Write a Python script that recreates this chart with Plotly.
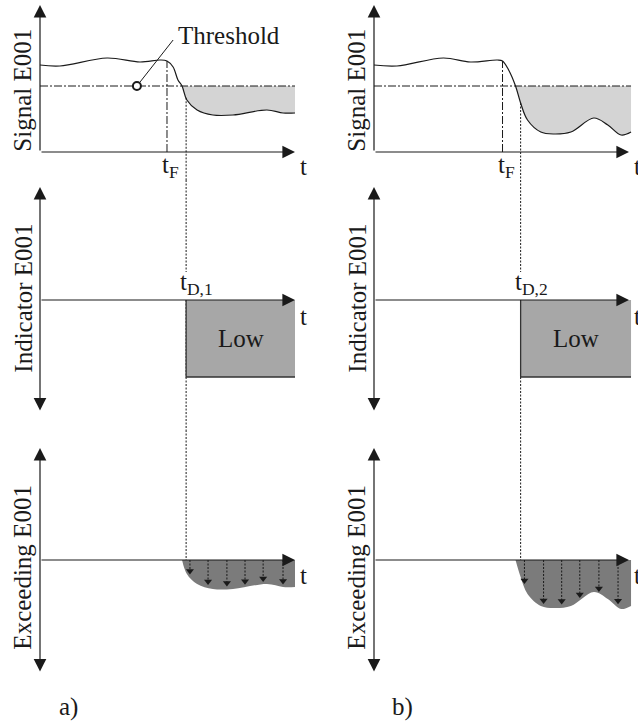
import numpy as np
import plotly.graph_objects as go

# ---------------- data ----------------
threshold = 6.6
t_end = 10.0
indicator_low = -1.0

signal_a_t = [0, 0.78, 2.63, 3.92, 4.71, 4.98, 5.22, 5.41, 5.57, 5.76, 6.16, 6.78, 7.57, 8.9, 9.53, 10.0]
signal_a_v = [8.7, 8.6, 9.4, 9.0, 9.2, 9.1, 8.5, 7.2, 6.6, 5.2, 4.2, 3.7, 3.7, 4.2, 3.9, 3.9]
signal_b_t = [0, 0.9, 2.72, 3.78, 4.84, 5.04, 5.28, 5.55, 5.75, 6.02, 6.54, 7.05, 7.72, 8.62, 9.17, 9.69, 10.08]
signal_b_v = [8.7, 8.6, 9.4, 9.0, 9.2, 9.1, 8.2, 6.6, 4.9, 3.2, 2.0, 1.8, 2.0, 3.4, 2.7, 1.7, 2.0]

t_fault = {"a": 4.98, "b": 5.04}
t_detect = {"a": 5.73, "b": 5.75}
detect_labels = {"a": "t<sub>D,1</sub>", "b": "t<sub>D,2</sub>"}
arrow_times = {"a": [5.88, 6.59, 7.33, 8.04, 8.75, 9.53],
               "b": [5.9, 6.65, 7.36, 8.07, 8.82, 9.57]}
threshold_marker_t = 3.8
panel_labels = {"a": "a)", "b": "b)"}
ylabels = ["Signal E001", "Indicator E001", "Exceeding E001"]

signals = {"a": (signal_a_t, signal_a_v), "b": (signal_b_t, signal_b_v)}

# ---------------- layout geometry ----------------
W, H = 638, 723
FONT = "Liberation Serif"
FS = 25
INK = "#1a1a1a"
PX_PER_T = 25.5
cols = {"a": dict(x0=0, x1=319, origin=40), "b": dict(x0=320, x1=638, origin=374)}
rows = [dict(y0=0, y1=180, origin=152, scale=10.0),   # signal
        dict(y0=180, y1=430, origin=300, scale=77.0),  # indicator
        dict(y0=430, y1=723, origin=560, scale=10.0)]  # exceeding

fig = go.Figure()
layout = dict(width=W, height=H, margin=dict(l=0, r=0, t=0, b=0),
              paper_bgcolor="white", plot_bgcolor="rgba(0,0,0,0)",
              showlegend=False, font=dict(family=FONT, color=INK, size=FS))
annotations = []

axis_ids = {}
k = 0
for c in ["a", "b"]:
    for r in range(3):
        k += 1
        suf = "" if k == 1 else str(k)
        axis_ids[(c, r)] = ("x" + suf, "y" + suf)
        cg, rg = cols[c], rows[r]
        xr = [(cg["x0"] - cg["origin"]) / PX_PER_T, (cg["x1"] - cg["origin"]) / PX_PER_T]
        yr = [(rg["origin"] - rg["y1"]) / rg["scale"], (rg["origin"] - rg["y0"]) / rg["scale"]]
        layout["xaxis" + suf] = dict(domain=[cg["x0"] / W, cg["x1"] / W], range=xr, visible=False,
                                     anchor="y" + suf, fixedrange=True)
        layout["yaxis" + suf] = dict(domain=[1 - rg["y1"] / H, 1 - rg["y0"] / H], range=yr,
                                     visible=False, anchor="x" + suf, fixedrange=True)


def px_to_val(r, py):
    return (rows[r]["origin"] - py) / rows[r]["scale"]


def axis_arrow(xa, ya, x, y, ax, ay, both=False):
    annotations.append(dict(x=x, y=y, ax=ax, ay=ay, xref=xa, yref=ya, axref=xa, ayref=ya,
                            text="", showarrow=True, arrowhead=2, arrowsize=2.1, arrowwidth=1.2,
                            arrowcolor=INK, arrowside="end+start" if both else "end",
                            startarrowhead=2, startarrowsize=2.1))


def text(xa, ya, x, y, s, **kw):
    d = dict(x=x, y=y, xref=xa, yref=ya, text=s, showarrow=False,
             font=dict(family=FONT, size=kw.pop("size", FS), color=INK))
    d.update(kw)
    annotations.append(d)


for c in ["a", "b"]:
    ts, vs = signals[c]
    ts = np.array(ts, float)
    vs = np.array(vs, float)
    after = ts >= ts[np.argmax(vs <= threshold)]
    tD, tF = t_detect[c], t_fault[c]
    v_at_tD = float(np.interp(tD, ts, vs))
    v_at_tF = float(np.interp(tF, ts, vs))

    # ---------- signal panel ----------
    xa, ya = axis_ids[(c, 0)]
    fig.add_trace(go.Scatter(x=ts[after], y=np.full(after.sum(), threshold), xaxis=xa, yaxis=ya,
                             mode="lines", line=dict(width=0), hoverinfo="skip"))
    fig.add_trace(go.Scatter(x=ts[after], y=vs[after], xaxis=xa, yaxis=ya, mode="lines",
                             line=dict(width=0, shape="spline"), fill="tonexty",
                             fillcolor="#d4d4d4", hoverinfo="skip"))
    fig.add_trace(go.Scatter(x=[0, ts[-1]], y=[threshold, threshold], xaxis=xa, yaxis=ya,
                             mode="lines", line=dict(color=INK, width=1, dash="8px,2px,2px,2px")))
    fig.add_trace(go.Scatter(x=[tF, tF], y=[0, v_at_tF], xaxis=xa, yaxis=ya, mode="lines",
                             line=dict(color=INK, width=1, dash="8px,2px,2px,2px")))
    fig.add_trace(go.Scatter(x=[tD, tD], y=[v_at_tD, layout["yaxis" + ya[1:]]["range"][0]],
                             xaxis=xa, yaxis=ya, mode="lines",
                             line=dict(color=INK, width=1, dash="2px,1.5px")))
    fig.add_trace(go.Scatter(x=ts, y=vs, xaxis=xa, yaxis=ya, mode="lines",
                             line=dict(color=INK, width=1.2, shape="spline")))
    axis_arrow(xa, ya, 0, px_to_val(0, 5), 0, 0)
    axis_arrow(xa, ya, t_end, 0, 0, 0)
    text(xa, ya, 10.35, px_to_val(0, 166), "t")
    text(xa, ya, tF, px_to_val(0, 166), "t<sub>F</sub>", xshift=4)
    text(xa, ya, -0.72, px_to_val(0, 90), ylabels[0], textangle=-90)
    if c == "a":
        fig.add_trace(go.Scatter(x=[threshold_marker_t, 5.22], y=[threshold, 11.2], xaxis=xa, yaxis=ya,
                                 mode="lines", line=dict(color=INK, width=1)))
        fig.add_trace(go.Scatter(x=[threshold_marker_t], y=[threshold], xaxis=xa, yaxis=ya,
                                 mode="markers", marker=dict(symbol="circle", size=8, color="white",
                                                             line=dict(color=INK, width=2))))
        text(xa, ya, 5.35, 11.7, "Threshold", xanchor="left")

    # ---------- indicator panel ----------
    xa, ya = axis_ids[(c, 1)]
    yr = layout["yaxis" + ya[1:]]["range"]
    fig.add_trace(go.Scatter(x=[tD, tD, None, tD, tD], y=[yr[1], px_to_val(1, 272), None, 0, yr[0]],
                             xaxis=xa, yaxis=ya, mode="lines",
                             line=dict(color=INK, width=1, dash="2px,1.5px")))
    t_rect_end = ts[-1]
    fig.add_trace(go.Scatter(x=[tD, t_rect_end, t_rect_end, tD, tD],
                             y=[0, 0, indicator_low, indicator_low, 0], xaxis=xa, yaxis=ya,
                             mode="lines", line=dict(width=0), fill="toself", fillcolor="#a7a7a7"))
    fig.add_trace(go.Scatter(x=[tD, tD, t_rect_end], y=[0, indicator_low, indicator_low],
                             xaxis=xa, yaxis=ya, mode="lines", line=dict(color="#333333", width=1.3)))
    axis_arrow(xa, ya, 0, px_to_val(1, 187), 0, px_to_val(1, 412), both=True)
    axis_arrow(xa, ya, t_end, 0, 0, 0)
    text(xa, ya, 10.35, px_to_val(1, 316), "t")
    text(xa, ya, (tD + t_rect_end) / 2, indicator_low / 2, "Low")
    text(xa, ya, tD, 0, detect_labels[c], xanchor="left", yanchor="bottom", xshift=-8, yshift=-1)
    text(xa, ya, -0.68, px_to_val(1, 298), ylabels[1], textangle=-90)

    # ---------- exceeding panel ----------
    xa, ya = axis_ids[(c, 2)]
    yr = layout["yaxis" + ya[1:]]["range"]
    exceed = vs[after] - threshold
    fig.add_trace(go.Scatter(x=[tD, tD], y=[yr[1], 0], xaxis=xa, yaxis=ya, mode="lines",
                             line=dict(color=INK, width=1, dash="2px,1.5px")))
    fig.add_trace(go.Scatter(x=ts[after], y=exceed, xaxis=xa, yaxis=ya, mode="lines",
                             line=dict(width=0, shape="spline"), fill="tozeroy",
                             fillcolor="#7b7b7b"))
    at = np.array(arrow_times[c])
    tips = np.interp(at, ts[after], exceed) + 0.6
    ax_, ay_ = [], []
    for tt, tp in zip(at, tips):
        ax_ += [tt, tt, None]
        ay_ += [0, tp, None]
    fig.add_trace(go.Scatter(x=ax_, y=ay_, xaxis=xa, yaxis=ya, mode="lines",
                             line=dict(color=INK, width=1, dash="2px,1.5px")))
    fig.add_trace(go.Scatter(x=at, y=tips, xaxis=xa, yaxis=ya, mode="markers",
                             marker=dict(symbol="triangle-down", size=7, color=INK)))
    axis_arrow(xa, ya, 0, px_to_val(2, 448), 0, px_to_val(2, 673), both=True)
    axis_arrow(xa, ya, t_end, 0, 0, 0)
    text(xa, ya, 10.35, px_to_val(2, 575), "t")
    text(xa, ya, -0.72, px_to_val(2, 567), ylabels[2], textangle=-90)
    text(xa, ya, 1.1, px_to_val(2, 707), panel_labels[c])

layout["annotations"] = annotations
fig.update_layout(**layout)
fig.write_html("out.html", config={"displayModeBar": False},
               post_script="document.body.style.margin='0';document.body.style.overflow='hidden';")
